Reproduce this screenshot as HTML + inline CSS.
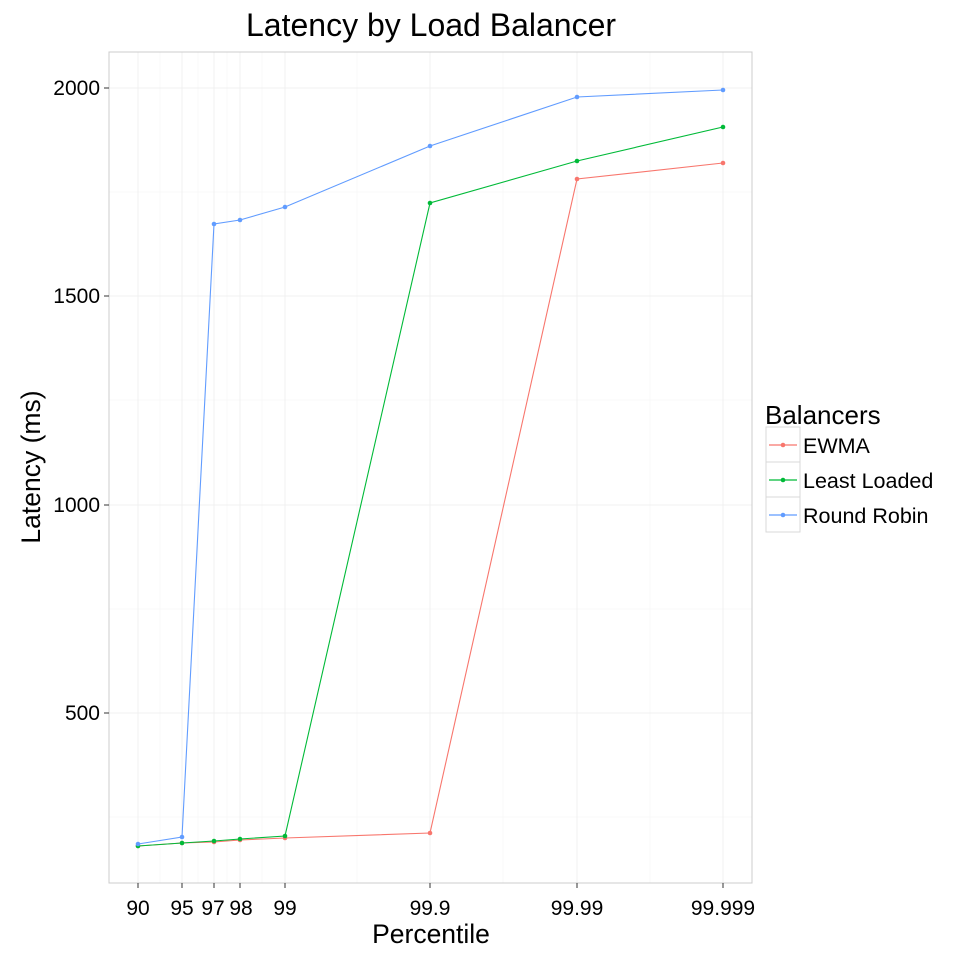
<!DOCTYPE html><html><head><style>body{margin:0;background:#fff}</style></head><body>
<svg width="960" height="960" xmlns="http://www.w3.org/2000/svg" font-family="Liberation Sans, sans-serif">
<rect width="960" height="960" fill="#fff"/>
<g stroke="#f7f7f7" stroke-width="0.8">
<line x1="109" x2="752" y1="192" y2="192"/><line x1="109" x2="752" y1="400" y2="400"/><line x1="109" x2="752" y1="609" y2="609"/><line x1="109" x2="752" y1="817" y2="817"/>
<line y1="52" y2="883" x1="160" x2="160"/><line y1="52" y2="883" x1="198" x2="198"/><line y1="52" y2="883" x1="227" x2="227"/><line y1="52" y2="883" x1="262" x2="262"/><line y1="52" y2="883" x1="357" x2="357"/><line y1="52" y2="883" x1="503" x2="503"/><line y1="52" y2="883" x1="650" x2="650"/>
</g>
<g stroke="#f0f0f0" stroke-width="1">
<line x1="109" x2="752" y1="88" y2="88"/><line x1="109" x2="752" y1="296" y2="296"/><line x1="109" x2="752" y1="505" y2="505"/><line x1="109" x2="752" y1="713" y2="713"/>
<line y1="52" y2="883" x1="138" x2="138"/><line y1="52" y2="883" x1="182" x2="182"/><line y1="52" y2="883" x1="214" x2="214"/><line y1="52" y2="883" x1="240" x2="240"/><line y1="52" y2="883" x1="285" x2="285"/><line y1="52" y2="883" x1="430" x2="430"/><line y1="52" y2="883" x1="577" x2="577"/><line y1="52" y2="883" x1="723" x2="723"/>
</g>
<rect x="109" y="52" width="643" height="831" fill="none" stroke="#cccccc" stroke-width="1"/>
<g stroke="#333" stroke-width="1">
<line x1="104" x2="109" y1="88" y2="88"/><line x1="104" x2="109" y1="296" y2="296"/><line x1="104" x2="109" y1="505" y2="505"/><line x1="104" x2="109" y1="713" y2="713"/>
<line y1="883" y2="888" x1="138" x2="138"/><line y1="883" y2="888" x1="182" x2="182"/><line y1="883" y2="888" x1="214" x2="214"/><line y1="883" y2="888" x1="240" x2="240"/><line y1="883" y2="888" x1="285" x2="285"/><line y1="883" y2="888" x1="430" x2="430"/><line y1="883" y2="888" x1="577" x2="577"/><line y1="883" y2="888" x1="723" x2="723"/>
</g>
<g font-size="21" fill="#000" text-anchor="end">
<text x="100" y="95">2000</text><text x="100" y="303">1500</text><text x="100" y="512">1000</text><text x="100" y="720">500</text>
</g>
<g font-size="21" fill="#000" text-anchor="middle">
<text x="138" y="915">90</text><text x="182" y="915">95</text><text x="213" y="915">97</text><text x="241" y="915">98</text><text x="285" y="915">99</text><text x="430" y="915">99.9</text><text x="577" y="915">99.99</text><text x="723" y="915">99.999</text>
</g>
<text x="431" y="943" font-size="26.5" text-anchor="middle">Percentile</text>
<text transform="translate(40,467) rotate(-90)" font-size="26.5" text-anchor="middle">Latency (ms)</text>
<text x="431" y="36" font-size="32" text-anchor="middle">Latency by Load Balancer</text>
<g fill="none" stroke-width="1.1">
<polyline stroke="#F8766D" points="138,846 182,843 214,842 240,840 285,838 430,833 577,179 723,163"/>
<polyline stroke="#00BA38" points="138,846 182,843 214,841 240,839 285,836 430,203 577,161 723,127"/>
<polyline stroke="#619CFF" points="138,844 182,837 214,224 240,220 285,207 430,146 577,97 723,90"/>
</g>
<g fill="#F8766D"><circle cx="138" cy="846" r="2.3"/><circle cx="182" cy="843" r="2.3"/><circle cx="214" cy="842" r="2.3"/><circle cx="240" cy="840" r="2.3"/><circle cx="285" cy="838" r="2.3"/><circle cx="430" cy="833" r="2.3"/><circle cx="577" cy="179" r="2.3"/><circle cx="723" cy="163" r="2.3"/></g>
<g fill="#00BA38"><circle cx="138" cy="846" r="2.3"/><circle cx="182" cy="843" r="2.3"/><circle cx="214" cy="841" r="2.3"/><circle cx="240" cy="839" r="2.3"/><circle cx="285" cy="836" r="2.3"/><circle cx="430" cy="203" r="2.3"/><circle cx="577" cy="161" r="2.3"/><circle cx="723" cy="127" r="2.3"/></g>
<g fill="#619CFF"><circle cx="138" cy="844" r="2.3"/><circle cx="182" cy="837" r="2.3"/><circle cx="214" cy="224" r="2.3"/><circle cx="240" cy="220" r="2.3"/><circle cx="285" cy="207" r="2.3"/><circle cx="430" cy="146" r="2.3"/><circle cx="577" cy="97" r="2.3"/><circle cx="723" cy="90" r="2.3"/></g>
<text x="765" y="424" font-size="26">Balancers</text>
<g fill="none" stroke="#d9d9d9"><rect x="766" y="427" width="34" height="35"/><rect x="766" y="462" width="34" height="35"/><rect x="766" y="497" width="34" height="35"/></g>
<line x1="769" x2="797" y1="445" y2="445" stroke="#F8766D" stroke-width="1.2"/><circle cx="783" cy="445" r="2.3" fill="#F8766D"/>
<line x1="769" x2="797" y1="480" y2="480" stroke="#00BA38" stroke-width="1.2"/><circle cx="783" cy="480" r="2.3" fill="#00BA38"/>
<line x1="769" x2="797" y1="515" y2="515" stroke="#619CFF" stroke-width="1.2"/><circle cx="783" cy="515" r="2.3" fill="#619CFF"/>
<g font-size="21.5"><text x="803" y="453">EWMA</text><text x="803" y="488">Least Loaded</text><text x="803" y="523">Round Robin</text></g>
</svg></body></html>
